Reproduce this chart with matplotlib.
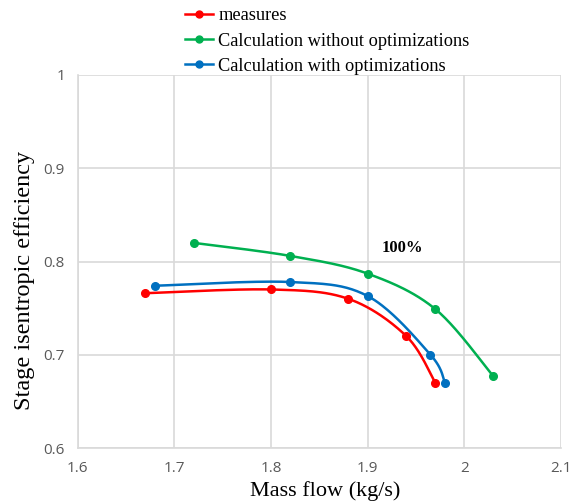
import numpy as np
import matplotlib
matplotlib.use("Agg")
import matplotlib.pyplot as plt
from matplotlib.lines import Line2D

# Data
measures_x = [1.67, 1.80, 1.88, 1.94, 1.97]
measures_y = [0.766, 0.770, 0.760, 0.720, 0.670]
noopt_x = [1.72, 1.82, 1.90, 1.97, 2.03]
noopt_y = [0.820, 0.806, 0.787, 0.749, 0.677]
opt_x = [1.68, 1.82, 1.90, 1.965, 1.98]
opt_y = [0.774, 0.778, 0.763, 0.700, 0.670]

labels = ["measures", "Calculation without optimizations", "Calculation with optimizations"]
colors = ["#ff0000", "#00b050", "#0070c0"]
xticks = [1.6, 1.7, 1.8, 1.9, 2.0, 2.1]
xticklabels = ["1.6", "1.7", "1.8", "1.9", "2", "2.1"]
yticks = [0.6, 0.7, 0.8, 0.9, 1.0]
yticklabels = ["0.6", "0.7", "0.8", "0.9", "1"]


def smooth(x, y, n=40):
    # Excel-like smoothed line: cubic Bezier with Catmull-Rom control points
    x = np.asarray(x, float); y = np.asarray(y, float)
    P = np.column_stack([x, y])
    out = []
    for i in range(len(P) - 1):
        p0 = P[i - 1] if i > 0 else P[i]
        p1 = P[i]; p2 = P[i + 1]
        p3 = P[i + 2] if i + 2 < len(P) else P[i + 1]
        c1 = p1 + (p2 - p0) / 6.0
        c2 = p2 - (p3 - p1) / 6.0
        t = np.linspace(0, 1, n)[:, None]
        seg = (1 - t) ** 3 * p1 + 3 * (1 - t) ** 2 * t * c1 + 3 * (1 - t) * t ** 2 * c2 + t ** 3 * p2
        out.append(seg if i == 0 else seg[1:])
    s = np.vstack(out)
    return s[:, 0], s[:, 1]


W, H = 577, 503
fig = plt.figure(figsize=(W / 100, H / 100), dpi=100)
ax = fig.add_axes([77.5 / W, (H - 448) / H, (561 - 77.5) / W, (448 - 75) / H])

series = [(measures_x, measures_y), (noopt_x, noopt_y), (opt_x, opt_y)]
handles = []
for (sx, sy), c, lab in zip(series, colors, labels):
    xs, ys = smooth(sx, sy)
    ax.plot(xs, ys, color=c, lw=1.8, zorder=3)
    ax.plot(sx, sy, 'o', color=c, ms=5.5, zorder=4)
    handles.append(Line2D([0], [0], color=c, lw=1.8, marker='o', ms=5.0, label=lab))

ax.set_xlim(1.6, 2.1)
ax.set_ylim(0.6, 1.0)
ax.set_xticks(xticks)
ax.set_xticklabels(xticklabels)
ax.set_yticks(yticks)
ax.set_yticklabels(yticklabels)
ax.grid(True, color="#d9d9d9", lw=1.2)
ax.set_axisbelow(True)
for s in ["top", "right"]:
    ax.spines[s].set_visible(False)
for s in ["left", "bottom"]:
    ax.spines[s].set_color("#d9d9d9")
    ax.spines[s].set_linewidth(1.2)
ax.tick_params(length=0, labelsize=11, labelcolor="#595959")
ax.tick_params(axis="x", pad=9)
ax.tick_params(axis="y", pad=9)
for t in ax.get_xticklabels() + ax.get_yticklabels():
    t.set_family("Open Sans")

ax.set_xlabel("Mass flow (kg/s)", family="Liberation Serif", fontsize=16)
ax.xaxis.set_label_coords((325.5 - 77.5) / (561 - 77.5), -(491 - 448) / (448 - 75))
ax.xaxis.label.set_va("center")
ax.set_ylabel("Stage isentropic efficiency", family="Liberation Serif", fontsize=17.5)
ax.yaxis.set_label_coords(-(77.5 - 25) / (561 - 77.5), (448 - 280) / (448 - 75))
ax.yaxis.label.set_va("center")

ax.text(1.936, 0.814, "100%", family="Liberation Serif", fontsize=12, fontweight="bold",
        ha="center", va="center")

fig.legend(handles=handles, loc="upper left", bbox_to_anchor=(178 / W, 1.0),
           frameon=False, prop={"family": "Liberation Serif", "size": 13.2},
           handlelength=1.5, handletextpad=0.3, labelspacing=0.45, borderaxespad=0.0)

fig.savefig("out.png", dpi=100)
